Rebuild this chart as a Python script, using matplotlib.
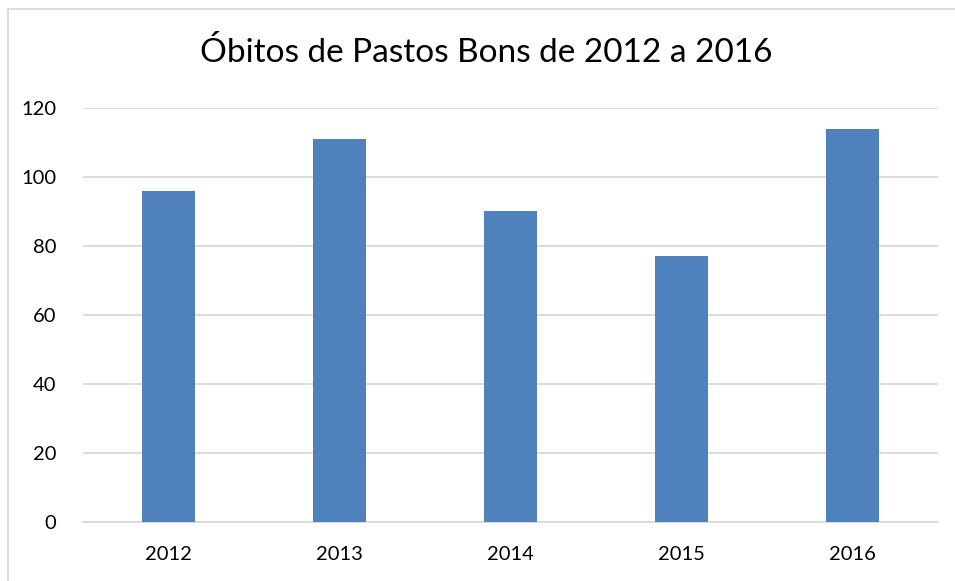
import matplotlib
matplotlib.use("Agg")
import matplotlib.pyplot as plt
from matplotlib.lines import Line2D

categories = ["2012", "2013", "2014", "2015", "2016"]
values = [96, 111, 90, 77, 114]
yticks = [0, 20, 40, 60, 80, 100, 120]
title = "Óbitos de Pastos Bons de 2012 a 2016"

plt.rcParams['font.family'] = ['Lato', 'DejaVu Sans']

W, H = 955, 581
fig = plt.figure(figsize=(W/100, H/100), dpi=100)
ax = fig.add_axes([83/W, (H-522)/H, (938-83)/W, (522-108)/H])

x = list(range(len(categories)))
ax.bar(x, values, width=0.315, color="#4F81BD", zorder=3)
ax.set_xlim(-0.5, len(categories)-0.5)
ax.set_ylim(0, 120)
ax.set_yticks(yticks)
ax.set_xticks(x)
ax.set_xticklabels(categories)
ax.grid(axis='y', color="#D9D9D9", linewidth=1.3, zorder=0)
for s in ["top", "right", "left"]:
    ax.spines[s].set_visible(False)
ax.spines["bottom"].set_color("#D9D9D9")
ax.spines["bottom"].set_linewidth(1.3)
ax.tick_params(axis='both', length=0, labelsize=14.5, colors="#000000")
ax.tick_params(axis='x', pad=17)
ax.tick_params(axis='y', pad=19)

fig.text(486/W, 1-52/H, title, ha='center', va='center', fontsize=24, color="#000000")

# figure border (left & top)
fig.add_artist(Line2D([7.5/W, 7.5/W], [0, 1-8.5/H], transform=fig.transFigure, color="#D9D9D9", linewidth=1.3))
fig.add_artist(Line2D([7.5/W, 1], [1-8.5/H, 1-8.5/H], transform=fig.transFigure, color="#D9D9D9", linewidth=1.3))

fig.savefig("out.png", dpi=100)
